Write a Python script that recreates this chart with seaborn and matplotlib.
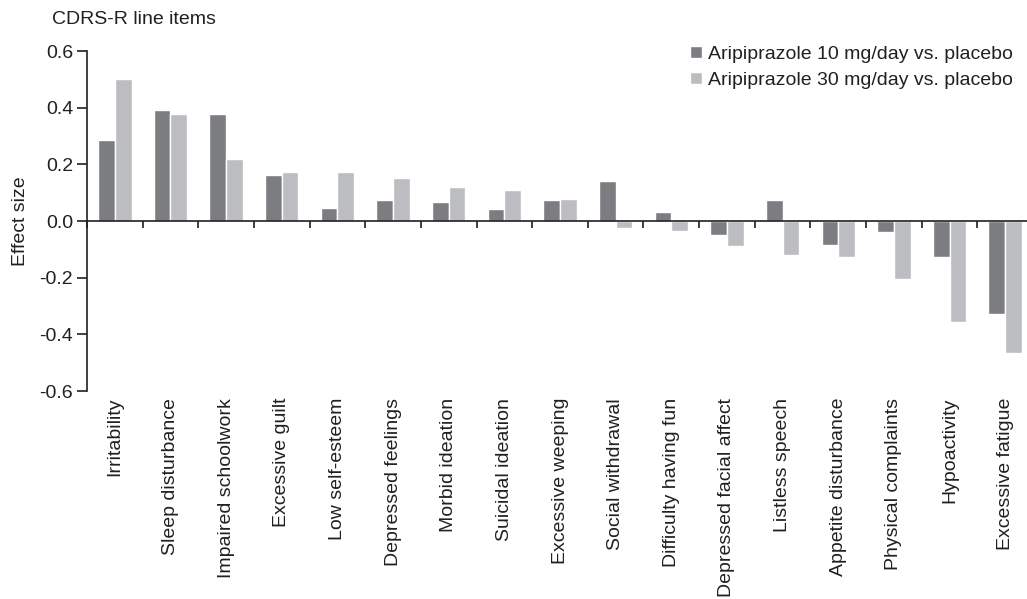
import matplotlib
matplotlib.use("Agg")
import matplotlib.pyplot as plt
import numpy as np
import pandas as pd
import seaborn as sns

# CDRS-R line items and effect sizes for each aripiprazole dose vs. placebo
items = [
    "Irritability", "Sleep disturbance", "Impaired schoolwork", "Excessive guilt",
    "Low self-esteem", "Depressed feelings", "Morbid ideation", "Suicidal ideation",
    "Excessive weeping", "Social withdrawal", "Difficulty having fun",
    "Depressed facial affect", "Listless speech", "Appetite disturbance",
    "Physical complaints", "Hypoactivity", "Excessive fatigue",
]
series_names = ["Aripiprazole 10 mg/day vs. placebo", "Aripiprazole 30 mg/day vs. placebo"]
effect_10mg = [0.286, 0.392, 0.378, 0.163, 0.046, 0.074, 0.067, 0.042, 0.074, 0.141,
               0.032, -0.048, 0.074, -0.085, -0.039, -0.127, -0.328]
effect_30mg = [0.501, 0.378, 0.219, 0.173, 0.173, 0.152, 0.120, 0.109, 0.078, -0.024,
               -0.035, -0.087, -0.120, -0.127, -0.205, -0.357, -0.466]
y_ticks = [-0.6, -0.4, -0.2, 0.0, 0.2, 0.4, 0.6]

df = pd.DataFrame({
    "item": items * 2,
    "effect": effect_10mg + effect_30mg,
    "dose": [series_names[0]] * len(items) + [series_names[1]] * len(items),
})

sns.set_theme(style="white")
plt.rcParams["font.family"] = ["Liberation Sans", "DejaVu Sans"]
plt.rcParams["axes.unicode_minus"] = False
text_color = "#231f20"

fig = plt.figure(figsize=(10.27, 5.99), dpi=100)
W, H = 1027, 599
ax = fig.add_axes([87 / W, 1 - 391 / H, 946 / W, 340 / H])

palette = {series_names[0]: "#7c7d81", series_names[1]: "#bcbdc1"}
sns.barplot(data=df, x="item", y="effect", hue="dose", order=items,
            hue_order=series_names, palette=palette, width=0.6,
            saturation=1, ax=ax, errorbar=None)

ax.set_xlim(-0.5, len(items) - 0.5)
ax.set_ylim(-0.6, 0.6)

# Spines: y axis on the left, category axis through zero
for side in ("top", "right"):
    ax.spines[side].set_visible(False)
ax.spines["left"].set_color(text_color)
ax.spines["left"].set_linewidth(1.2)
ax.spines["bottom"].set_position(("data", 0))
ax.spines["bottom"].set_color(text_color)
ax.spines["bottom"].set_linewidth(1.2)

ax.set_yticks(y_ticks)
ax.set_yticklabels([f"{v:.1f}" for v in y_ticks], fontsize=14, color=text_color)
ax.tick_params(axis="y", direction="out", length=7, width=1.2, color=text_color,
               left=True, pad=3)

# Group separators on the zero line; item names below the plot
ax.set_xticks(np.arange(-0.5, len(items) + 0.5, 1.0), minor=True)
ax.tick_params(axis="x", which="minor", direction="out", length=5, width=1.2,
               color=text_color, bottom=True)
ax.tick_params(axis="x", which="major", length=0, labelbottom=False)
ax.set_xlabel("")

sec = ax.secondary_xaxis("bottom")
sec.set_xticks(range(len(items)))
sec.set_xticklabels(items, rotation=90, fontsize=14, color=text_color)
sec.tick_params(length=0, pad=5)
sec.spines["bottom"].set_visible(False)

ax.set_ylabel("Effect size", fontsize=14, color=text_color)
ax.yaxis.set_label_coords(-0.061, 0.5)

fig.text(52 / W, 1 - 20 / H, "CDRS-R line items", fontsize=14,
         color=text_color, ha="left", va="center")

handles, labels = ax.get_legend_handles_labels()
ax.legend(handles, labels, loc="upper left", bbox_to_anchor=(690 / W, 1 - 46 / H),
          bbox_transform=fig.transFigure, frameon=False, fontsize=14,
          handlelength=0.6, handleheight=0.6, handletextpad=0.35,
          labelspacing=0.45, borderpad=0, borderaxespad=0,
          labelcolor=text_color)

fig.savefig("out.png", dpi=100, facecolor="white")
